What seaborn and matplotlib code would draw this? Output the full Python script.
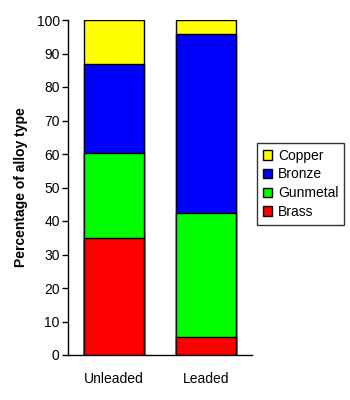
import matplotlib
matplotlib.use("Agg")
import matplotlib.pyplot as plt
from matplotlib.patches import Patch
from matplotlib.ticker import FixedLocator, NullFormatter
import seaborn as sns
import pandas as pd
import numpy as np

categories = ["Unleaded", "Leaded"]
alloys = ["Brass", "Gunmetal", "Bronze", "Copper"]
brass = [35.0, 5.5]
gunmetal = [25.3, 37.0]
bronze = [26.5, 53.2]
copper = [13.2, 4.3]
colors = {"Brass": "#ff0000", "Gunmetal": "#00ff00", "Bronze": "#0000ff", "Copper": "#ffff00"}

sns.set_style("white")
plt.rcParams["font.family"] = ["Liberation Sans", "DejaVu Sans"]
plt.rcParams.update({"text.color": "black", "axes.labelcolor": "black",
                     "xtick.color": "black", "ytick.color": "black"})

layers = [brass, gunmetal, bronze, copper]
cum = np.cumsum(np.array(layers), axis=0)
df = pd.DataFrame({"category": categories})
for name, vals in zip(alloys, cum):
    df[name] = vals

fig = plt.figure(figsize=(3.5, 4), dpi=100)
ax = fig.add_axes([68 / 350, 45 / 400, 184 / 350, 335 / 400])

# stacked bars: draw the tallest cumulative layer first, smaller ones on top
for name in reversed(alloys):
    sns.barplot(data=df, x="category", y=name, color=colors[name], width=0.65,
                edgecolor="black", linewidth=1.0, saturation=1, ax=ax)

ax.set_xlim(-0.5, 1.5)
ax.set_ylim(0, 100)
ax.set_yticks(range(0, 101, 10))
ax.set_xticks([0, 1])
ax.set_xticklabels(categories, fontsize=10)
ax.xaxis.set_minor_locator(FixedLocator([-0.5, 0.5, 1.5]))
ax.xaxis.set_minor_formatter(NullFormatter())
ax.tick_params(axis="x", which="major", length=0, pad=12)
ax.tick_params(axis="x", which="minor", length=7, width=1, direction="inout", color="black")
ax.tick_params(axis="y", which="major", length=4, width=1, direction="out", color="black",
               labelsize=10, pad=2, left=True)
ax.set_xlabel("")
ax.set_ylabel("Percentage of alloy type", fontsize=10, fontweight="bold", labelpad=6)

for side in ["top", "right"]:
    ax.spines[side].set_visible(False)
for side in ["left", "bottom"]:
    ax.spines[side].set_color("black")
    ax.spines[side].set_linewidth(1)

handles = [Patch(facecolor=colors[n], edgecolor="black", linewidth=1, label=n)
           for n in reversed(alloys)]
leg = fig.legend(handles=handles, loc="upper left", bbox_to_anchor=(257 / 350, 1 - 143 / 400),
                 bbox_transform=fig.transFigure, fontsize=10, frameon=True, fancybox=False,
                 handlelength=0.7, handleheight=0.7, handletextpad=0.4, borderpad=0.4,
                 labelspacing=0.35, borderaxespad=0)
leg.get_frame().set_edgecolor("black")
leg.get_frame().set_linewidth(1)

fig.savefig("out.png", dpi=100)
